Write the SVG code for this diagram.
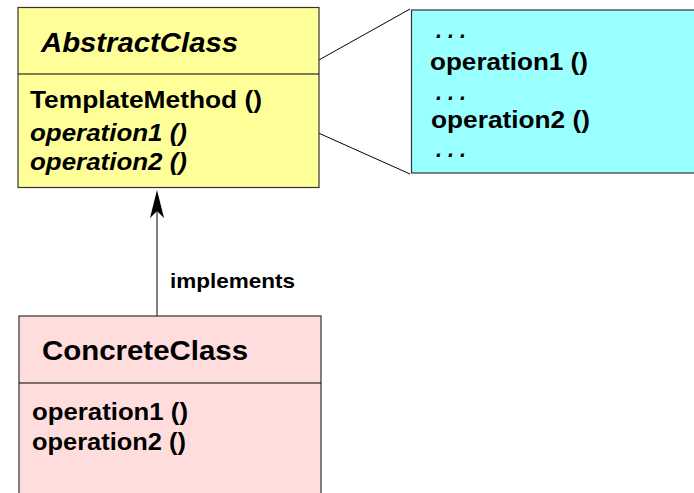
<svg xmlns="http://www.w3.org/2000/svg" width="694" height="493" viewBox="0 0 694 493">
<style>
text{font-family:"Liberation Sans",Arial,sans-serif;font-weight:bold;fill:#000}
.t{font-size:27px}
.o{font-size:24px}
.i{font-style:italic}
.box{stroke:#333;stroke-width:1.2}
.ln{stroke:#000;stroke-width:1;fill:none}
</style>
<rect width="694" height="493" fill="#fff"/>
<g id="connectors">
<line class="ln" x1="267" y1="89" x2="410" y2="9"/>
<line class="ln" x1="267" y1="110" x2="410" y2="174"/>
<line class="ln" x1="157" y1="316" x2="157" y2="210" stroke-width="1.5"/>
<path d="M157,190 L150,218 L157,211 L164,218 Z" fill="#000"/>
<text x="170" y="288" style="font-size:21px" textLength="125" lengthAdjust="spacingAndGlyphs">implements</text>
</g>
<g id="AbstractClass">
<rect class="box" x="18" y="7.5" width="301" height="180" fill="#FFFF99"/>
<line class="ln" x1="18" y1="74" x2="319" y2="74" stroke="#333"/>
<text class="t i" x="41" y="52" textLength="197" lengthAdjust="spacingAndGlyphs">AbstractClass</text>
<text class="o" x="30" y="108" textLength="232" lengthAdjust="spacingAndGlyphs">TemplateMethod ()</text>
<text class="o i" x="30" y="141" textLength="157" lengthAdjust="spacingAndGlyphs">operation1 ()</text>
<text class="o i" x="30" y="170" textLength="157" lengthAdjust="spacingAndGlyphs">operation2 ()</text>
</g>
<g id="TemplateMethodBody">
<rect class="box" x="411.5" y="10" width="290" height="163" fill="#99FFFF"/>
<text class="o i" x="436" y="38" textLength="30" lengthAdjust="spacingAndGlyphs">. . .</text>
<text class="o" x="430" y="70" textLength="158" lengthAdjust="spacingAndGlyphs">operation1 ()</text>
<text class="o i" x="436" y="100" textLength="30" lengthAdjust="spacingAndGlyphs">. . .</text>
<text class="o" x="431" y="128" textLength="159" lengthAdjust="spacingAndGlyphs">operation2 ()</text>
<text class="o i" x="436" y="157" textLength="30" lengthAdjust="spacingAndGlyphs">. . .</text>
</g>
<g id="ConcreteClass">
<rect class="box" x="19" y="316" width="302" height="190" fill="#FFDDDD"/>
<line class="ln" x1="19" y1="383" x2="321" y2="383" stroke="#333"/>
<text class="t" x="42" y="360" textLength="206" lengthAdjust="spacingAndGlyphs">ConcreteClass</text>
<text class="o" x="32" y="420" textLength="156" lengthAdjust="spacingAndGlyphs">operation1 ()</text>
<text class="o" x="32" y="450" textLength="154" lengthAdjust="spacingAndGlyphs">operation2 ()</text>
</g>
</svg>
